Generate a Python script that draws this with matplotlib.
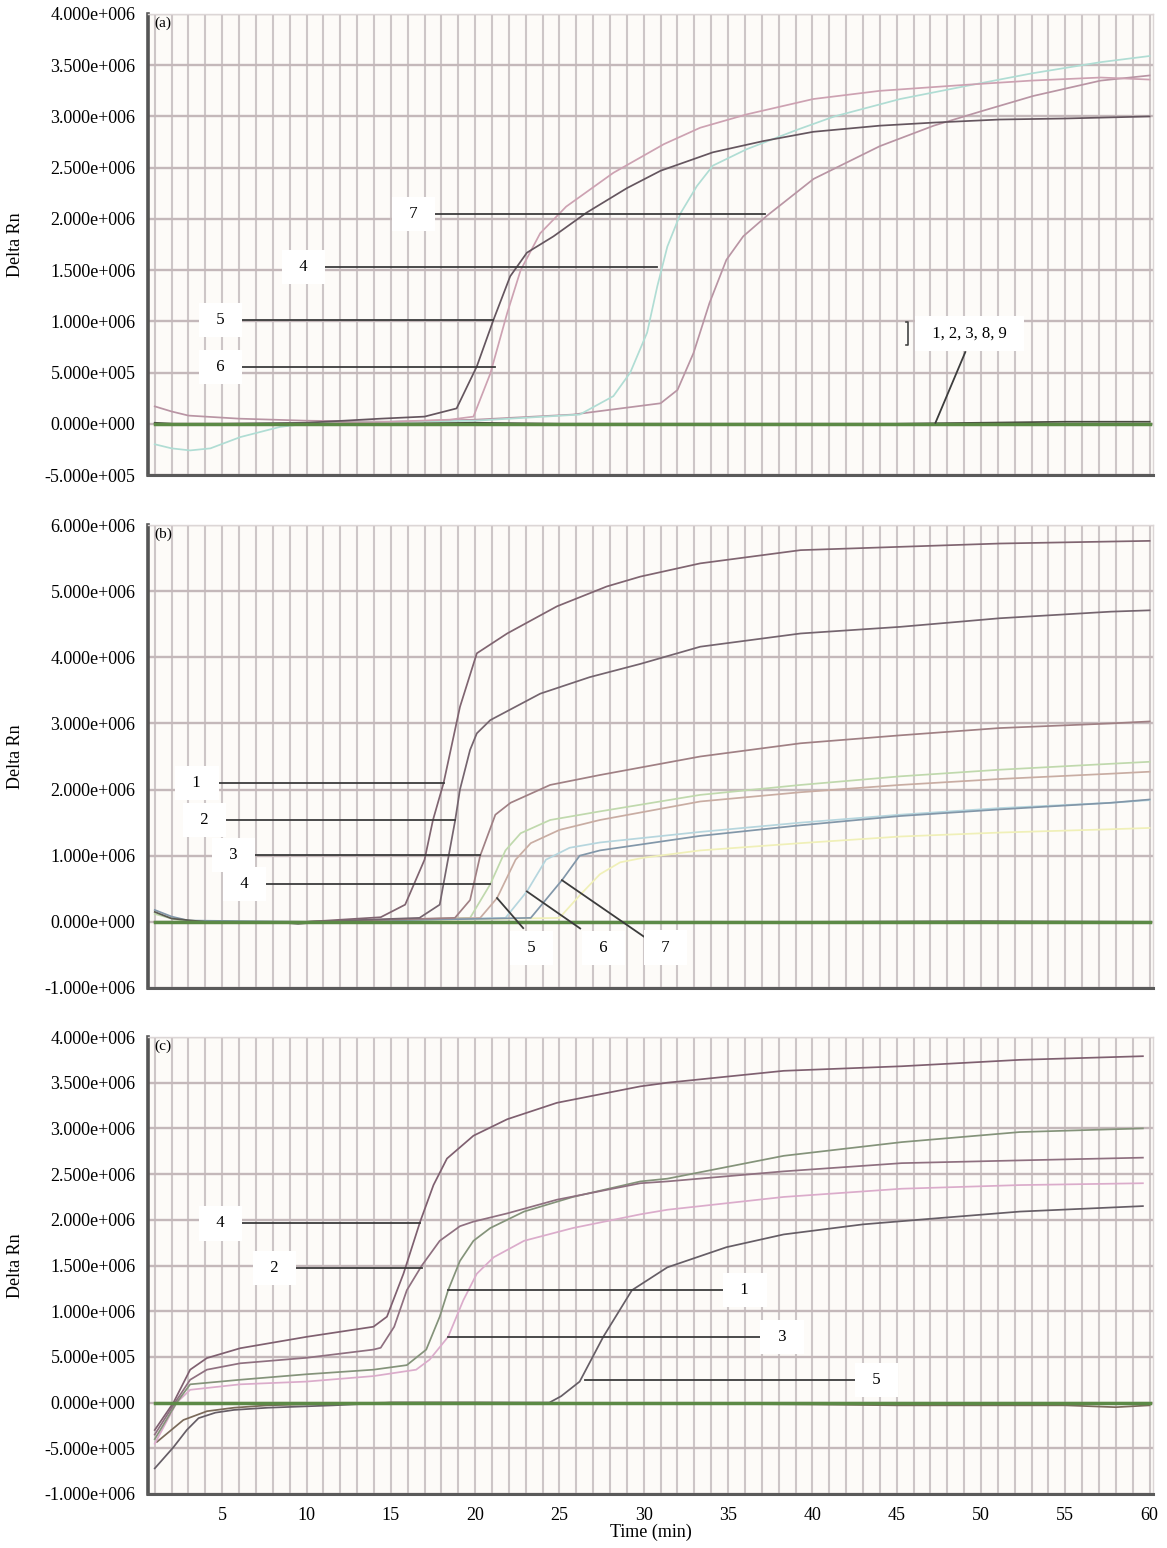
import matplotlib
matplotlib.use("Agg")
import matplotlib.pyplot as plt
from matplotlib.ticker import FuncFormatter, MultipleLocator
import numpy as np

plt.rcParams['font.family'] = ['Liberation Serif', 'DejaVu Serif']

# ---- data (time in min, Delta Rn in units of 1e6) ----
# panel (a)
a5_t = [1, 5, 10, 14.4, 17, 18.9, 20.1, 21.1, 22.08, 23.07, 24.65, 26.6, 29.0, 31.0, 34.1, 37.1, 40.05, 44.0, 47.2, 51.1, 55, 60]
a5_v = [0.0, 0.0, 0.01, 0.05, 0.07, 0.15, 0.56, 1.02, 1.44, 1.67, 1.83, 2.06, 2.30, 2.47, 2.65, 2.76, 2.85, 2.91, 2.94, 2.97, 2.98, 3.0]
a6_t = [1, 5, 10, 15, 18.5, 19.9, 20.9, 21.9, 22.7, 23.86, 25.4, 28.2, 31.2, 33.35, 36.1, 40.05, 44.0, 49.2, 53, 57.1, 60]
a6_v = [0.0, 0.0, 0.0, 0.02, 0.04, 0.07, 0.49, 1.08, 1.50, 1.86, 2.12, 2.45, 2.73, 2.89, 3.02, 3.17, 3.25, 3.31, 3.35, 3.38, 3.36]
a4_t = [1, 2, 3.1, 4.3, 6.07, 8.44, 10, 15, 20, 26.2, 28.2, 29.2, 30.2, 30.8, 31.4, 32.2, 33.15, 34.1, 36.1, 39.1, 41.3, 45.2, 49.2, 53, 57.1, 60]
a4_v = [-0.2, -0.24, -0.26, -0.24, -0.13, -0.03, 0.0, 0.02, 0.03, 0.09, 0.27, 0.5, 0.89, 1.34, 1.73, 2.06, 2.32, 2.52, 2.68, 2.87, 3.0, 3.17, 3.3, 3.42, 3.53, 3.59]
a7_t = [1, 2, 3, 4, 6, 10, 15, 20, 25.8, 31.0, 32.0, 32.95, 33.9, 34.9, 35.9, 37.3, 40.07, 44.0, 47.2, 50, 53.1, 57.1, 60]
a7_v = [0.17, 0.12, 0.08, 0.07, 0.05, 0.03, 0.02, 0.04, 0.09, 0.2, 0.33, 0.69, 1.18, 1.6, 1.83, 2.03, 2.39, 2.71, 2.91, 3.05, 3.2, 3.35, 3.4]
a_base_t = [1, 3, 6, 10, 15, 20, 25, 30, 35, 40, 45, 50, 55, 60]
a_base_dark = [0.01, -0.01, -0.01, 0.0, 0.0, 0.01, 0.0, 0.0, 0.0, 0.0, 0.0, 0.01, 0.02, 0.02]
a_base_green = [0.0, 0.0, 0.0, 0.0, 0.0, 0.0, 0.0, 0.0, 0.0, 0.0, 0.0, 0.0, 0.0, 0.0]

# panel (b)
b1_t = [1, 5, 10, 14.4, 15.85, 17.0, 17.5, 18.13, 19.1, 20.1, 21.9, 24.85, 27.8, 29.8, 33.35, 39.3, 45.2, 51.1, 57.7, 60]
b1_v = [0.0, 0.0, 0.0, 0.07, 0.26, 0.94, 1.54, 2.10, 3.25, 4.06, 4.36, 4.77, 5.07, 5.22, 5.42, 5.62, 5.67, 5.72, 5.75, 5.76]
b2_t = [1, 5, 10, 16.7, 17.9, 18.82, 19.1, 19.7, 20.1, 20.9, 23.86, 26.8, 29.8, 33.35, 39.3, 45.2, 51.1, 57.7, 60]
b2_v = [0.0, 0.0, 0.0, 0.06, 0.26, 1.54, 2.0, 2.6, 2.85, 3.05, 3.45, 3.7, 3.9, 4.16, 4.36, 4.46, 4.59, 4.69, 4.71]
b3_t = [1, 5, 10, 18.8, 19.7, 20.3, 21.2, 22.1, 24.45, 27.4, 33.35, 39.3, 45.2, 51.1, 57.7, 60]
b3_v = [0.0, 0.0, 0.0, 0.06, 0.33, 1.0, 1.62, 1.8, 2.07, 2.22, 2.5, 2.7, 2.82, 2.93, 3.0, 3.03]
b4_t = [1, 2, 3, 10, 19.7, 20.9, 21.8, 22.7, 24.45, 27.4, 33.35, 39.3, 45.2, 51.1, 57.7, 60]
b4_v = [0.12, 0.05, 0.0, 0.0, 0.06, 0.57, 1.08, 1.34, 1.54, 1.67, 1.92, 2.07, 2.2, 2.3, 2.39, 2.42]
b5_t = [1, 5, 10, 20.3, 21.3, 22.4, 23.3, 25.0, 27.4, 33.35, 39.3, 45.2, 51.1, 57.7, 60]
b5_v = [0.0, 0.0, 0.0, 0.06, 0.36, 0.94, 1.19, 1.39, 1.54, 1.82, 1.96, 2.07, 2.16, 2.24, 2.27]
b6_t = [1, 5, 10, 21.8, 23.07, 24.2, 25.6, 27.4, 33.35, 39.3, 45.2, 51.1, 57.7, 60]
b6_v = [0.0, 0.0, 0.0, 0.06, 0.46, 0.94, 1.12, 1.2, 1.36, 1.5, 1.62, 1.72, 1.8, 1.84]
b7_t = [1, 2, 3, 10, 23.3, 25.15, 26.2, 27.4, 33.35, 39.3, 45.2, 51.1, 57.7, 60]
b7_v = [0.18, 0.08, 0.02, 0.0, 0.06, 0.63, 1.0, 1.08, 1.3, 1.46, 1.6, 1.7, 1.8, 1.85]
b8_t = [1, 5, 10, 25.0, 26.2, 27.4, 28.6, 30, 33.35, 39.3, 45.2, 51.1, 57.7, 60]
b8_v = [0.0, 0.0, 0.0, 0.06, 0.4, 0.72, 0.9, 0.97, 1.08, 1.19, 1.29, 1.35, 1.4, 1.42]
b_base_t = [1, 2, 4, 8, 9.5, 11, 15, 20, 30, 40, 50, 60]
b_base_dark = [0.15, 0.05, 0.0, 0.0, -0.03, 0.0, 0.0, 0.0, 0.0, 0.0, 0.01, 0.0]
b_base_green = [0.0, 0.0, 0.0, 0.0, 0.0, 0.0, 0.0, 0.0, 0.0, 0.0, 0.0, 0.0]

# panel (c)
c4_t = [1.0, 2.11, 3.1, 4.09, 6.07, 10.02, 13.97, 14.77, 15.75, 16.74, 17.53, 18.33, 19.9, 21.9, 24.85, 29.8, 31.4, 38.3, 45.3, 52.3, 59.6]
c4_v = [-0.3, 0.0, 0.36, 0.487, 0.595, 0.72, 0.83, 0.94, 1.41, 1.98, 2.38, 2.67, 2.92, 3.1, 3.28, 3.46, 3.5, 3.63, 3.68, 3.75, 3.79]
c2_t = [1.0, 2.2, 3.1, 4.09, 6.07, 10.0, 13.97, 14.4, 15.2, 15.95, 16.84, 17.9, 19.1, 19.9, 21.9, 24.85, 29.8, 31.4, 38.3, 45.3, 52.3, 59.6]
c2_v = [-0.35, 0.0, 0.25, 0.36, 0.43, 0.49, 0.58, 0.6, 0.83, 1.23, 1.5, 1.77, 1.93, 1.98, 2.07, 2.22, 2.4, 2.42, 2.53, 2.62, 2.65, 2.68]
c1_t = [1.0, 2.3, 3.1, 6.07, 10, 13.97, 15.95, 17.1, 17.9, 18.4, 19.1, 19.9, 20.9, 22.9, 25.8, 29.8, 31.4, 38.3, 45.3, 52.3, 59.6]
c1_v = [-0.4, 0.0, 0.2, 0.25, 0.31, 0.36, 0.41, 0.58, 0.94, 1.23, 1.55, 1.77, 1.91, 2.09, 2.25, 2.42, 2.45, 2.7, 2.85, 2.96, 3.0]
c3_t = [1.0, 2.3, 3.1, 6.07, 10, 13.97, 16.5, 17.3, 18.4, 19.3, 20.1, 21.1, 22.9, 25.8, 29.8, 31.4, 38.3, 45.3, 52.3, 59.6]
c3_v = [-0.45, 0.0, 0.14, 0.2, 0.23, 0.29, 0.36, 0.47, 0.72, 1.12, 1.41, 1.59, 1.77, 1.91, 2.06, 2.11, 2.25, 2.34, 2.38, 2.4]
c5_t = [1.0, 2.1, 2.9, 3.6, 4.6, 5.7, 7.7, 11.6, 15, 20, 24.4, 25.1, 26.2, 27.6, 29.3, 31.4, 34.9, 38.3, 43.0, 47.6, 52.3, 59.6]
c5_v = [-0.72, -0.49, -0.30, -0.17, -0.11, -0.08, -0.056, -0.03, 0.0, 0.0, 0.0, 0.07, 0.23, 0.72, 1.23, 1.48, 1.7, 1.84, 1.95, 2.02, 2.09, 2.15]
c_neg_t = [1.13, 2.7, 4.1, 5.7, 7.7, 11.6, 15, 20, 30, 40, 45, 50, 55, 58, 60]
c_neg_v = [-0.43, -0.19, -0.094, -0.056, -0.03, -0.01, 0.0, 0.0, -0.01, -0.02, -0.03, -0.03, -0.03, -0.05, -0.03]
c_base_t = [1, 5, 10, 20, 30, 40, 50, 60]
c_base_green = [0.0, 0.0, 0.0, 0.0, 0.0, 0.0, 0.0, 0.0]

panels = [
    dict(tag='(a)', ylim=(-0.5, 4.0), step=0.5,
         curves=[(a7_t, a7_v, '#b995a4'), (a4_t, a4_v, '#b0ddd4'), (a6_t, a6_v, '#cda2b2'),
                 (a5_t, a5_v, '#65565f'), (a_base_t, a_base_dark, '#4a4a40')],
         base=(a_base_t, a_base_green),
         # label text, text pos (t, v), leader from (t, v) to (t, v)
         labels=[('7', (16.33, 2.05), (17.46, 2.05), (37.2, 2.05)),
                 ('4', (9.8, 1.53), (10.93, 1.53), (30.8, 1.53)),
                 ('5', (4.88, 1.016), (6.07, 1.016), (21.07, 1.016)),
                 ('6', (4.88, 0.556), (6.07, 0.556), (21.2, 0.556)),
                 ('1, 2, 3, 8, 9', (49.3, 0.88), (49.07, 0.70), (47.3, 0.01))]),
    dict(tag='(b)', ylim=(-1.0, 6.0), step=1.0,
         curves=[(b8_t, b8_v, '#f0f0b8'), (b6_t, b6_v, '#b6d6de'), (b4_t, b4_v, '#c0d9ad'),
                 (b5_t, b5_v, '#c9ada3'), (b7_t, b7_v, '#8297a9'), (b3_t, b3_v, '#a08084'),
                 (b2_t, b2_v, '#75656f'), (b1_t, b1_v, '#806571'), (b_base_t, b_base_dark, '#5a5a52')],
         base=(b_base_t, b_base_green),
         labels=[('1', (3.5, 2.10), (4.58, 2.10), (18.13, 2.10)),
                 ('2', (3.93, 1.54), (5.12, 1.54), (18.82, 1.54)),
                 ('3', (5.65, 1.01), (6.84, 1.01), (20.3, 1.01)),
                 ('4', (6.3, 0.572), (7.49, 0.572), (20.9, 0.572)),
                 ('5', (23.33, -0.396), (22.85, -0.094), (21.3, 0.36)),
                 ('6', (27.6, -0.396), (26.23, -0.10), (23.07, 0.46)),
                 ('7', (31.3, -0.39), (29.99, -0.22), (25.15, 0.63))]),
    dict(tag='(c)', ylim=(-1.0, 4.0), step=0.5,
         curves=[(c_neg_t, c_neg_v, '#7a6a5a'), (c3_t, c3_v, '#dbaccb'), (c1_t, c1_v, '#84937a'),
                 (c2_t, c2_v, '#8f7080'), (c4_t, c4_v, '#7f6070'), (c5_t, c5_v, '#665e66')],
         base=(c_base_t, c_base_green),
         labels=[('4', (4.88, 1.96), (5.95, 1.96), (16.74, 1.96)),
                 ('2', (8.08, 1.47), (9.2, 1.47), (16.84, 1.47)),
                 ('1', (36.0, 1.23), (18.4, 1.23), (34.95, 1.23)),
                 ('3', (38.2, 0.72), (18.4, 0.72), (37.2, 0.72)),
                 ('5', (43.8, 0.25), (26.5, 0.25), (42.6, 0.25))]),
]

W, H = 1167, 1548
fig = plt.figure(figsize=(W / 100, H / 100), dpi=100)
boxes = [(14, 475), (525, 988), (1037, 1494)]
left, right = 148, 1153


def sci3(v, pos):
    if abs(v) < 1e-9:
        return '0.000e+000'
    e = int(np.floor(np.log10(abs(v)) + 1e-9))
    m = v / 10 ** e
    return '%.3fe%s%03d' % (m, '+' if e >= 0 else '-', abs(e))


for i, p in enumerate(panels):
    top, bot = boxes[i]
    ax = fig.add_axes([left / W, 1 - bot / H, (right - left) / W, (bot - top) / H])
    ax.set_facecolor('#fdfbf8')
    ax.set_xlim(0.6, 60.2)
    lo, hi = p['ylim']
    ax.set_ylim(lo * 1e6, hi * 1e6)
    ax.set_yticks(np.arange(lo, hi + 1e-6, p['step']) * 1e6)
    ax.yaxis.set_major_formatter(FuncFormatter(sci3))
    ax.xaxis.set_major_locator(MultipleLocator(5))
    ax.xaxis.set_minor_locator(MultipleLocator(1))
    ax.grid(True, which='both', axis='x', color='#cdc6c7', lw=1.5, zorder=0)
    ax.grid(True, which='major', axis='y', color='#c4b8ba', lw=1.7, zorder=0)
    ax.set_axisbelow(True)
    ax.tick_params(which='both', length=0, labelsize=13, pad=9)
    if i < 2:
        ax.tick_params(axis='x', labelbottom=False)
    for s in ['top', 'right']:
        ax.spines[s].set_color('#dcd6d6')
        ax.spines[s].set_linewidth(1)
    ax.spines['left'].set_color('#555555')
    ax.spines['left'].set_linewidth(2.6)
    ax.spines['bottom'].set_color('#5a5a5a')
    ax.spines['bottom'].set_linewidth(2.2)

    for t, v, col in p['curves']:
        ax.plot(t, np.array(v) * 1e6, color=col, lw=1.25, zorder=3)
    bt, bv = p['base']
    ax.plot(bt, np.array(bv) * 1e6, color='#5c8a46', lw=2.5, zorder=4)

    for txt, (tx, ty), (x0, y0), (x1, y1) in p['labels']:
        ax.plot([x0, x1], [y0 * 1e6, y1 * 1e6], color='#3c3c3c', lw=1.3, zorder=5)
        ax.text(tx, ty * 1e6, '  %s  ' % txt, ha='center', va='center', fontsize=12,
                zorder=6, bbox=dict(boxstyle='square,pad=0.55', fc='white', ec='none'))
    if i == 0:
        # small bracket next to the "1, 2, 3, 8, 9" box
        ax.plot([45.55, 45.7, 45.7, 45.55], [0.99e6, 0.99e6, 0.77e6, 0.77e6],
                color='#444444', lw=1.2, zorder=6)

    ax.text(0.006, 0.994, p['tag'], transform=ax.transAxes, ha='left', va='top', fontsize=11)
    fig.text(15 / W, 1 - (top + bot) / 2 / H, 'Delta Rn', rotation=90,
             ha='center', va='center', fontsize=13)

fig.text((left + right) / 2 / W, 1 - 1532 / H, 'Time (min)', ha='center', va='center', fontsize=13)

fig.savefig('out.png', dpi=100, facecolor='white')
